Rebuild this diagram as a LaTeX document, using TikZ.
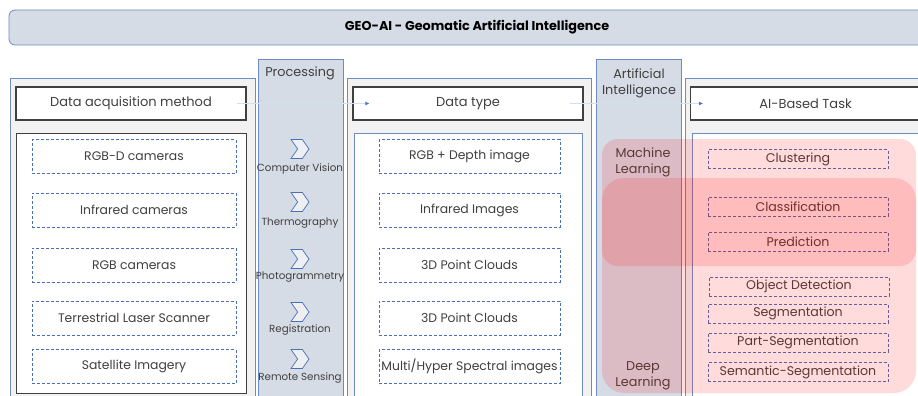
\documentclass[tikz,border=0pt]{standalone}
\usepackage{fontspec}
\setmainfont{Poppins}
\usetikzlibrary{arrows.meta,shapes.symbols}

\definecolor{panel}{HTML}{D6DCE5}
\definecolor{frameblue}{HTML}{6F8CC0}
\definecolor{dashblue}{HTML}{4A6FB5}
\definecolor{inkgray}{HTML}{404040}
\definecolor{pagegray}{HTML}{F2F2F2}
\definecolor{flowline}{HTML}{D3DEEE}
\definecolor{tipblue}{HTML}{4472C4}

\begin{document}
\begin{tikzpicture}[x=1pt,y=-1pt,
  column/.style={draw=frameblue, fill=pagegray, line width=0.8pt},
  band/.style={draw=frameblue, fill=panel, line width=0.8pt},
  header/.style={draw=inkgray, fill=white, line width=1.2pt, minimum height=33pt, inner sep=0pt, text=inkgray, font=\fontsize{13}{15}\selectfont},
  item/.style={draw=dashblue, dash pattern=on 3pt off 2pt, line width=0.7pt, fill=white, minimum height=34pt, inner sep=0pt, text=inkgray, font=\fontsize{12.4}{14}\selectfont},
  task/.style={item, minimum width=180pt, minimum height=19pt, font=\fontsize{12.6}{14}\selectfont},
  chev/.style={shape=signal, signal from=west, signal to=east, signal pointer angle=110, draw=dashblue, fill=white!55!panel, line width=0.7pt, minimum width=18pt, minimum height=19pt, inner sep=0pt},
  proclabel/.style={text=inkgray, font=\fontsize{10.3}{12}\selectfont, inner sep=0pt},
  bandtext/.style={text=inkgray, align=center, font=\fontsize{12.8}{16}\selectfont, inner sep=0pt},
  flow/.style={draw=flowline, line width=1.5pt, -{Latex[length=4pt,width=4pt,color=tipblue]}},
  mlzone/.style={fill=red, opacity=0.14}
]
\clip (0,0) rectangle (918,396);

% title bar
\draw[band, rounded corners=6pt] (9,10) rectangle (940,45);
\node[text=black, font=\bfseries\fontsize{12.8}{15}\selectfont] (geoai) at (477,27) {GEO-AI - Geomatic Artificial Intelligence};

% columns and the two vertical bands
\draw[column] (10,78) rectangle (255,420);
\draw[band] (258,59) rectangle (343,420);
\draw[column] (347,78) rectangle (591,420);
\draw[band] (596,59) rectangle (681,420);
\draw[column] (685,78) rectangle (940,420);

\node[bandtext] (proc) at (300,73) {Processing};
\node[bandtext] (ai) at (639,83) {Artificial\\Intelligence};

% headers
\node[header, minimum width=230pt] (acq) at (131,103.5) {Data acquisition method};
\node[header, minimum width=230pt] (dtype) at (468,103.5) {Data type};
\node[header, minimum width=260pt, anchor=west] (task) at (690,103.5) {\hspace*{-30pt}AI-Based Task};

% content frames
\draw[draw=inkgray, fill=white, line width=1pt] (16,133) rectangle (246,393);
\draw[draw=frameblue, fill=white, line width=0.8pt] (354,133) rectangle (582,420);
\draw[draw=frameblue, fill=white, line width=0.8pt] (692,133) rectangle (940,420);

% acquisition methods
\node[item, minimum width=204pt] (rgbd) at (134,156.5) {RGB-D cameras};
\node[item, minimum width=204pt] (ircam) at (134,210) {Infrared cameras};
\node[item, minimum width=204pt] (rgbcam) at (134,265) {RGB cameras};
\node[item, minimum width=204pt] (tls) at (134,318) {Terrestrial Laser Scanner};
\node[item, minimum width=204pt] (sat) at (134,366.5) {Satellite Imagery};

% data types
\node[item, minimum width=181pt] (rgbdimg) at (469.5,156.5) {RGB + Depth image};
\node[item, minimum width=181pt] (irimg) at (469.5,210) {Infrared Images};
\node[item, minimum width=181pt] (pcA) at (469.5,265) {3D Point Clouds};
\node[item, minimum width=181pt] (pcB) at (469.5,318) {3D Point Clouds};
\node[item, minimum width=181pt] (spec) at (469.5,366.5) {Multi/Hyper Spectral images};

% processing steps
\foreach \y/\ly/\lbl [count=\i] in {149/169/Computer Vision, 202/223/Thermography, 259/277/Photogrammetry, 312/330/Registration, 359/378/Remote Sensing}{
  \node[chev] (chev\i) at (300,\y) {};
  \node[proclabel] (step\i) at (300,\ly) {\lbl};
}

% AI tasks
\node[task] (clust) at (798,159) {Clustering};
\node[task] (classif) at (798,206.5) {Classification};
\node[task] (pred) at (798,241.5) {Prediction};
\node[task] (objdet) at (799,286.5) {Object Detection};
\node[task] (seg) at (798,313.5) {Segmentation};
\node[task] (partseg) at (798,342.5) {Part-Segmentation};
\node[task] (semseg) at (798,372) {Semantic-Segmentation};

% flow between headers
\draw[flow] ([xshift=-10pt]acq.east) -- ([xshift=17pt]dtype.west);
\draw[flow] ([xshift=-14pt]dtype.east) -- ([xshift=13pt]task.west);

% machine learning / deep learning zones
\node[bandtext] (ml) at (643,162.5) {Machine\\Learning};
\node[bandtext] (dl) at (643,376) {Deep\\Learning};
\fill[mlzone, rounded corners=16pt] (602,139) rectangle (916,266);
\fill[mlzone, rounded corners=22pt] (602,178) rectangle (916,393);
\end{tikzpicture}
\end{document}
